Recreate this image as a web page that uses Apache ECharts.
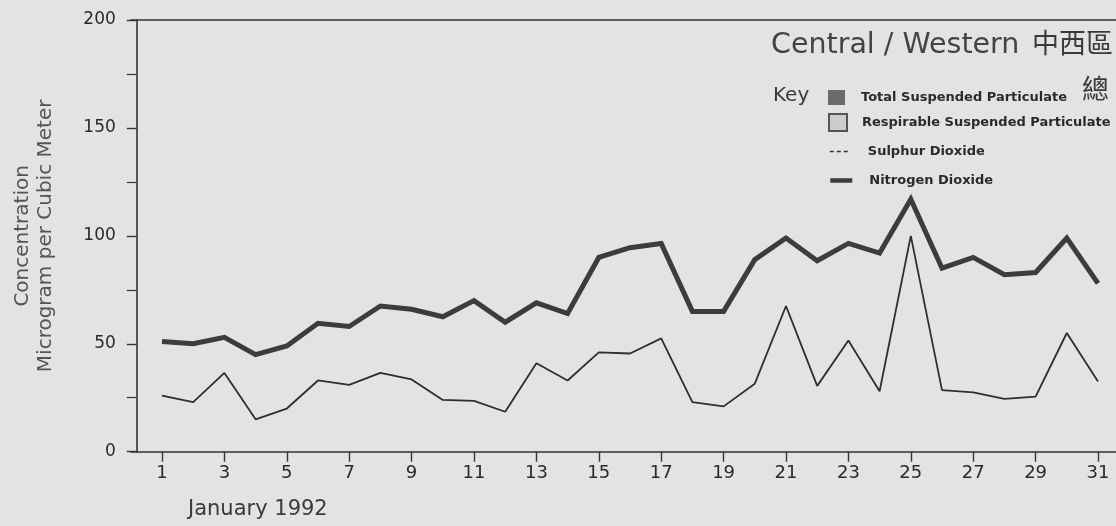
<!DOCTYPE html>
<html>
<head>
<meta charset="utf-8">
<script src="https://cdn.jsdelivr.net/npm/echarts@6/dist/echarts.min.js"></script>
<style>
  html, body { margin: 0; padding: 0; background: #e2e4e1; }
  #chart { width: 1116px; height: 526px; }
</style>
</head>
<body>
<div id="chart"></div>
<script>
// ---- data ----
var days = [1,2,3,4,5,6,7,8,9,10,11,12,13,14,15,16,17,18,19,20,21,22,23,24,25,26,27,28,29,30,31];
var nitrogenDioxide = [51,50,53,45,49,59.5,58,67.5,66,62.5,70,60,69,64,90,94.5,96.5,65,65,89,99,88.5,96.5,92,117,85,90,82,83,99,78];
var sulphurDioxide = [26,23,36.5,15,20,33,31,36.5,33.5,24,23.5,18.5,41,33,46,45.5,52.5,23,21,31.5,67.5,30.5,51.5,28,100,28.5,27.5,24.5,25.5,55,32.5];
var yTicks = [0,50,100,150,200];
var seriesNames = ['Total Suspended Particulate','Respirable Suspended Particulate','Sulphur Dioxide','Nitrogen Dioxide'];
var titleText = 'Central / Western';
var handNote1 = '中西區';
var handNote2 = '總';
var yName = 'Concentration\nMicrogram per Cubic Meter';
var xName = 'January 1992';

// category slots: a blank before day 1 and after day 31
var cats = [''].concat(days.map(String)).concat(['']);
var lastDay = days[days.length - 1];
function isLabelled(index) { return index >= 1 && index <= lastDay && index % 2 === 1; }

var chart = echarts.init(document.getElementById('chart'), null, { renderer: 'canvas' });
var FONT = 'DejaVu Sans';
var INK = '#333';
var legendText = { fontFamily: FONT, fontSize: 13, fontWeight: 'bold', color: '#2a2a2a' };

chart.setOption({
  animation: false,
  backgroundColor: '#e2e4e1',
  textStyle: { fontFamily: FONT },
  grid: { left: 130.8, top: 20, width: 998.4, bottom: 74.3, containLabel: false, outerBoundsMode: 'none' },
  title: [
    { text: titleText, left: 766, top: 26, textStyle: { fontFamily: FONT, fontSize: 28.5, fontWeight: 'normal', color: '#444' } },
    { text: handNote1, left: 1027, top: 24, textStyle: { fontFamily: 'Noto Sans CJK TC', fontSize: 27, fontWeight: 'normal', color: '#3a3a3a' } },
    { text: 'Key', left: 768, top: 81, textStyle: { fontFamily: FONT, fontSize: 20, fontWeight: 'normal', color: '#3a3a3a' } },
    { text: handNote2, left: 1077, top: 70, textStyle: { fontFamily: 'Noto Sans CJK TC', fontSize: 27, fontWeight: 'normal', color: '#3a3a3a' } },
    { text: xName, left: 183, top: 494, textStyle: { fontFamily: FONT, fontSize: 21, fontWeight: 'normal', color: '#3a3a3a' } }
  ],
  legend: [
    { data: [{ name: seriesNames[0], icon: 'rect' }], left: 823, top: 85, itemWidth: 17, itemHeight: 15,
      textStyle: Object.assign({ padding: [0,0,0,11] }, legendText), selectedMode: false },
    { data: [{ name: seriesNames[1], icon: 'rect' }], left: 823, top: 108, itemWidth: 18, itemHeight: 17,
      textStyle: Object.assign({ padding: [0,0,0,10] }, legendText), selectedMode: false },
    { data: [{ name: seriesNames[2], itemStyle: { opacity: 0 }, lineStyle: { type: [4,3], width: 1.6, color: '#333' } }],
      left: 824, top: 140, itemWidth: 21, itemHeight: 14,
      textStyle: Object.assign({ padding: [0,0,0,12] }, legendText), selectedMode: false },
    { data: [{ name: seriesNames[3], itemStyle: { opacity: 0 }, lineStyle: { width: 4.5, color: '#3c3c3c' } }],
      left: 823, top: 169, itemWidth: 22, itemHeight: 14,
      textStyle: Object.assign({ padding: [0,0,0,12] }, legendText), selectedMode: false }
  ],
  xAxis: [
    {
      type: 'category',
      data: cats,
      boundaryGap: false,
      axisLine: { show: true, lineStyle: { color: INK, width: 1.6 } },
      axisTick: { show: true, length: 10, inside: false, interval: function (i) { return isLabelled(i); }, lineStyle: { color: INK, width: 1.4 } },
      axisLabel: { interval: function (i) { return isLabelled(i); }, margin: 13, fontFamily: FONT, fontSize: 18, color: '#2a2a2a' },
      splitLine: { show: false }
    },
    {
      type: 'category',
      data: cats,
      boundaryGap: false,
      position: 'top',
      axisLine: { show: true, lineStyle: { color: INK, width: 1.6 } },
      axisTick: { show: false },
      axisLabel: { show: false },
      splitLine: { show: false }
    }
  ],
  yAxis: {
    type: 'value',
    min: yTicks[0],
    max: yTicks[yTicks.length - 1],
    interval: yTicks[1] - yTicks[0],
    offset: -6,
    name: yName,
    nameLocation: 'middle',
    nameRotate: 90,
    nameGap: 80,
    nameTextStyle: { fontFamily: FONT, fontSize: 20, color: '#555', lineHeight: 23, align: 'center' },
    axisLine: { show: true, lineStyle: { color: INK, width: 1.6 } },
    axisTick: { show: true, length: 10, lineStyle: { color: INK, width: 1.4 } },
    minorTick: { show: true, splitNumber: 2, length: 10, lineStyle: { color: INK, width: 1.2 } },
    axisLabel: { margin: 21, fontFamily: FONT, fontSize: 17, color: '#2a2a2a' },
    splitLine: { show: false }
  },
  series: [
    { name: seriesNames[0], type: 'bar', data: [], itemStyle: { color: '#6a6a6a' } },
    { name: seriesNames[1], type: 'bar', data: [], itemStyle: { color: '#cdcdcd', borderColor: '#555', borderWidth: 1 } },
    {
      name: seriesNames[2], type: 'line', symbol: 'none', showSymbol: false,
      data: days.map(function (d, i) { return [d, sulphurDioxide[i]]; }),
      lineStyle: { color: '#2e2e2e', width: 1.8 }, itemStyle: { color: '#2e2e2e' }
    },
    {
      name: seriesNames[3], type: 'line', symbol: 'none', showSymbol: false,
      data: days.map(function (d, i) { return [d, nitrogenDioxide[i]]; }),
      lineStyle: { color: '#3c3c3c', width: 5, join: 'miter' }, itemStyle: { color: '#3c3c3c' }
    }
  ]
});
</script>
</body>
</html>
